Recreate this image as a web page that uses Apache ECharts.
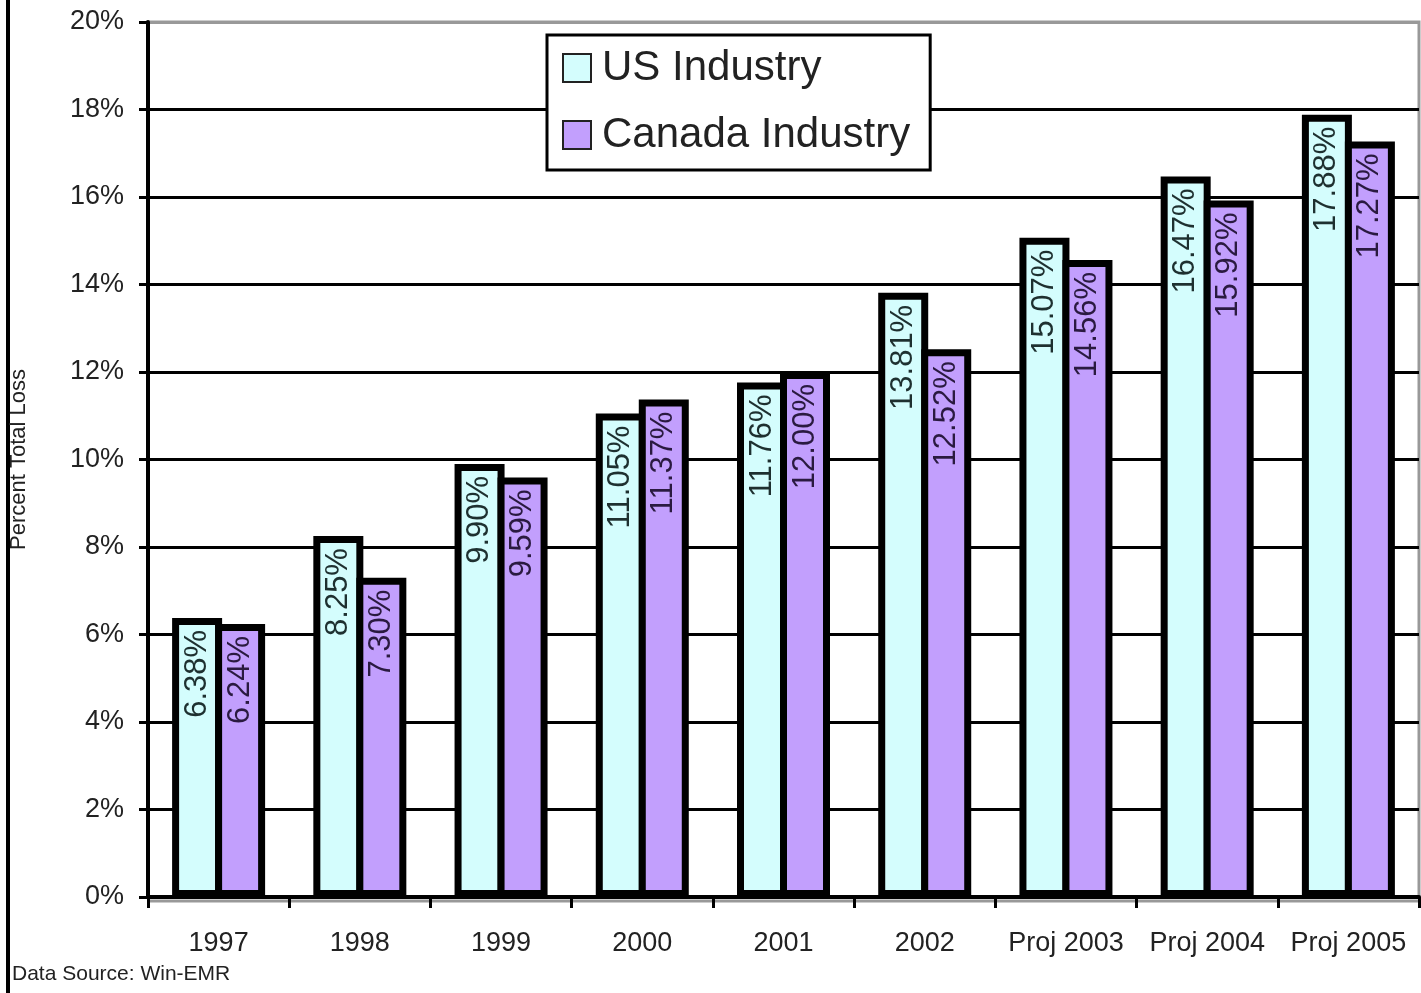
<!DOCTYPE html>
<html>
<head>
<meta charset="utf-8">
<script src="https://cdn.jsdelivr.net/npm/echarts@6/dist/echarts.min.js"></script>
<style>
html,body{margin:0;padding:0;background:#fff;}
#chart{width:1421px;height:993px;}
</style>
</head>
<body>
<div id="chart"></div>
<script>
const categories = ['1997','1998','1999','2000','2001','2002','Proj 2003','Proj 2004','Proj 2005'];
const usIndustry = [6.38, 8.25, 9.90, 11.05, 11.76, 13.81, 15.07, 16.47, 17.88];
const canadaIndustry = [6.24, 7.30, 9.59, 11.37, 12.00, 12.52, 14.56, 15.92, 17.27];
const seriesNames = ['US Industry', 'Canada Industry'];
const yAxisTitle = 'Percent Total Loss';
const sourceNote = 'Data Source: Win-EMR';

const FONT = '"Liberation Sans", Arial, sans-serif';
const splitColors = ['#000','#000','#000','#000','#000','#000','#000','#000','#000','#000','#999'];

function labelCfg(color) {
  return {
    show: true,
    position: 'insideTop',
    distance: 12,
    rotate: 90,
    align: 'right',
    verticalAlign: 'middle',
    fontFamily: FONT,
    fontSize: 31,
    color: color,
    formatter: p => p.value.toFixed(2) + '%'
  };
}

const chart = echarts.init(document.getElementById('chart'), null, {renderer: 'canvas'});
chart.setOption({
  animation: false,
  backgroundColor: '#fff',
  grid: {
    left: 145, right: 2, top: 22, bottom: 96,
    show: true, borderColor: '#999', borderWidth: 3, backgroundColor: '#fff'
  },
  legend: {
    orient: 'vertical',
    left: 547, top: 35,
    padding: [11, 20, 13, 15],
    backgroundColor: '#fff',
    borderColor: '#000',
    borderWidth: 3,
    icon: 'rect',
    itemWidth: 28, itemHeight: 28,
    itemGap: 23,
    itemStyle: {borderWidth: 2, borderColor: '#222'},
    selectedMode: false,
    textStyle: {fontFamily: FONT, fontSize: 42, lineHeight: 44, color: '#222', padding: [0,0,0,6]},
    data: seriesNames
  },
  xAxis: {
    type: 'category',
    data: categories,
    axisLine: {lineStyle: {color: '#000', width: 4}},
    axisTick: {show: true, length: 11, lineStyle: {color: '#000', width: 3}},
    axisLabel: {interval: 0, margin: 33, fontFamily: FONT, fontSize: 27, color: '#222'}
  },
  yAxis: {
    type: 'value',
    min: 0, max: 20, interval: 2,
    name: yAxisTitle,
    nameLocation: 'middle',
    nameRotate: 90,
    nameGap: 118,
    nameTextStyle: {fontFamily: FONT, fontSize: 22, color: '#222'},
    axisLine: {show: true, lineStyle: {color: '#000', width: 4}},
    axisTick: {show: true, length: 9, lineStyle: {color: '#000', width: 3}},
    axisLabel: {formatter: '{value}%', margin: 24, fontFamily: FONT, fontSize: 27, color: '#222'},
    splitLine: {show: true, lineStyle: {color: splitColors, width: 3}}
  },
  series: [
    {
      name: seriesNames[0],
      type: 'bar',
      data: usIndustry,
      barWidth: 50,
      barGap: '-14%',
      itemStyle: {color: '#d4fdfd', borderColor: '#000', borderWidth: 7},
      label: labelCfg('#1e3030')
    },
    {
      name: seriesNames[1],
      type: 'bar',
      data: canadaIndustry,
      barWidth: 50,
      barGap: '-14%',
      itemStyle: {color: '#c29ffd', borderColor: '#000', borderWidth: 7},
      label: labelCfg('#2a1a40')
    }
  ],
  graphic: [
    {type: 'line', shape: {x1: 8, y1: 0, x2: 8, y2: 993}, style: {stroke: '#000', lineWidth: 4}},
    {type: 'line', shape: {x1: 147, y1: 901, x2: 1421, y2: 901}, style: {stroke: '#999', lineWidth: 3}},
    {type: 'text', left: 12, top: 964, style: {text: sourceNote, font: '21px ' + FONT, fill: '#222'}}
  ]
});
</script>
</body>
</html>
